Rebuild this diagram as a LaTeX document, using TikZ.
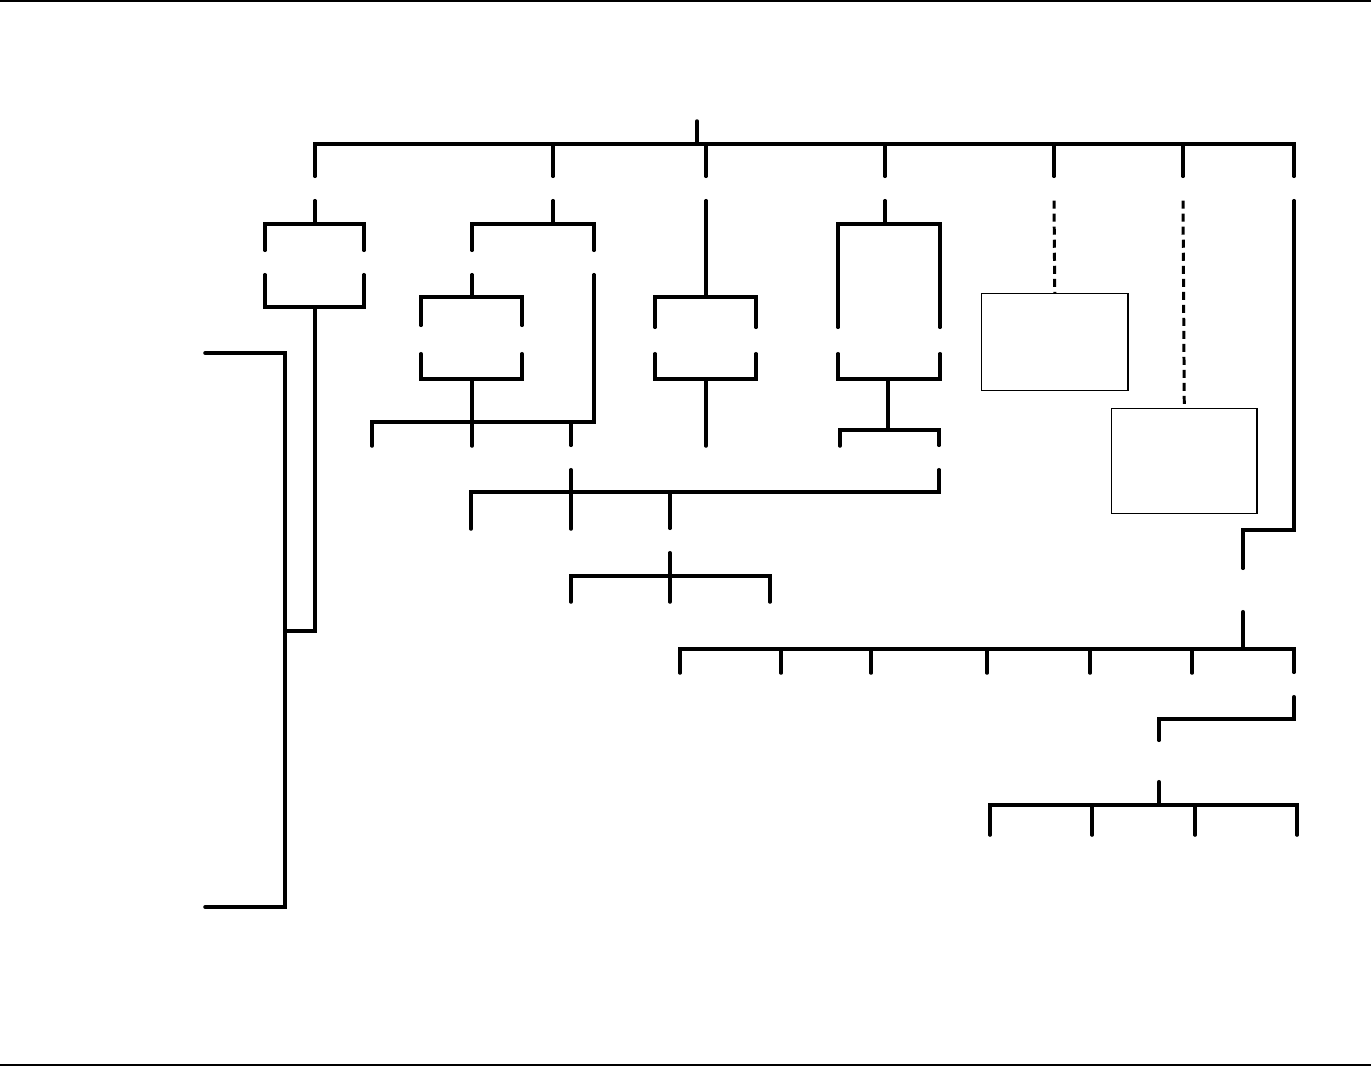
\documentclass[tikz,border=0pt]{standalone}
\usetikzlibrary{positioning,calc}

\begin{document}
\begin{tikzpicture}[
    x=0.01cm,y=-0.01cm,
    slot/.style={inner sep=0pt,minimum width=0pt,minimum height=2.3mm},
    link/.style={line width=1pt,line cap=round},
    hint/.style={line width=0.85pt,dash pattern=on 0.8mm off 0.5mm},
    card/.style={draw,line width=0.4pt,inner sep=0pt,anchor=north west},
    rule/.style={line width=0.4pt}
  ]
    \useasboundingbox (0,0) rectangle (1371,1066);
    \draw[rule] (0,1) -- (1371,1);
    \draw[rule] (0,1065) -- (1371,1065);

    % top level
    \node[slot,anchor=south] (root) at (697,121) {};
    \coordinate (bus) at (697,144);
    \foreach \n/\x in {a/315,b/553,c/706,d/885,e/1054,f/1183,g/1294}
      \node[slot] (t1\n) at (\x,188.5) {};
    \draw[link] (root.south) -- (bus);
    \draw[link] (t1a.north) |- (bus) -| (t1g.north);
    \foreach \n in {b,c,d,e,f}
      \draw[link] (t1\n.north) -- (t1\n.north |- bus);

    % first branch and the long bracket
    \node[slot] (a1) at (265,262.5) {};
    \node[slot] (a2) at (364,262.5) {};
    \coordinate (aTop) at (315,224);
    \coordinate (aBot) at (315,307);
    \coordinate (aJoin) at (285,631);
    \coordinate (lfTop) at (205,353);
    \coordinate (lfBot) at (205,907);
    \draw[link] (t1a.south) -- (aTop);
    \draw[link] (a1.north) |- (aTop) -| (a2.north);
    \draw[link] (a1.south) |- (aBot) -| (a2.south);
    \draw[link] (aBot) |- (aJoin);
    \draw[link] (lfTop) -| (aJoin) |- (lfBot);

    % second branch
    \node[slot] (b1) at (472,262.5) {};
    \node[slot] (b2) at (594,262.5) {};
    \node[slot,minimum height=2.7mm] (b3) at (421,339.5) {};
    \node[slot,minimum height=2.7mm] (b4) at (522,339.5) {};
    \coordinate (bTop) at (553,224);
    \coordinate (bMid) at (472,297);
    \coordinate (bLow) at (472,379);
    \coordinate (bBar) at (472,422);
    \coordinate (bLeaf1) at (372,446);
    \coordinate (bLeaf2) at (472,446);
    \draw[link] (t1b.south) -- (bTop);
    \draw[link] (b1.north) |- (bTop) -| (b2.north);
    \draw[link] (b1.south) -- (bMid);
    \draw[link] (b3.north) |- (bMid) -| (b4.north);
    \draw[link] (b3.south) |- (bLow) -| (b4.south);
    \draw[link] (bLow) -- (bBar);
    \draw[link] (bLeaf1) |- (bBar) -| (b2.south);
    \draw[link] (bBar) -- (bLeaf2);
    \node[slot] (e1) at (571,457.5) {};
    \draw[link] (e1.north) -- (e1.north |- bBar);

    % third branch
    \node[slot,minimum height=2.5mm] (c1) at (655,340.5) {};
    \node[slot,minimum height=2.5mm] (c2) at (756,340.5) {};
    \coordinate (cMid) at (706,297);
    \coordinate (cLow) at (706,379);
    \coordinate (cLeaf) at (706,446);
    \draw[link] (t1c.south) -- (cMid);
    \draw[link] (c1.north) |- (cMid) -| (c2.north);
    \draw[link] (c1.south) |- (cLow) -| (c2.south);
    \draw[link] (cLow) -- (cLeaf);

    % fourth branch
    \node[slot,minimum height=2.5mm] (d1) at (838,340.5) {};
    \node[slot,minimum height=2.5mm] (d2) at (940,340.5) {};
    \coordinate (dTop) at (885,224);
    \coordinate (dLow) at (888,379);
    \coordinate (dBar) at (888,430);
    \coordinate (dLeaf) at (840,446);
    \node[slot] (e2) at (939,457.5) {};
    \draw[link] (t1d.south) -- (dTop);
    \draw[link] (d1.north) |- (dTop) -| (d2.north);
    \draw[link] (d1.south) |- (dLow) -| (d2.south);
    \draw[link] (dLow) -- (dBar);
    \draw[link] (dLeaf) |- (dBar) -| (e2.north);

    % merged rows
    \coordinate (eBar) at (670,492);
    \coordinate (eLeaf1) at (471,529);
    \coordinate (eLeaf2) at (571,529);
    \node[slot] (f1) at (670,540.5) {};
    \draw[link] (eLeaf1) |- (eBar) -| (e2.south);
    \draw[link] (e1.south) -- (eLeaf2);
    \draw[link] (eBar) -- (f1.north);
    \coordinate (fBar) at (670,576);
    \coordinate (fLeaf1) at (571,602);
    \coordinate (fLeaf2) at (670,602);
    \coordinate (fLeaf3) at (770,602);
    \draw[link] (fLeaf1) |- (fBar) -| (fLeaf3);
    \draw[link] (f1.south) -- (fLeaf2);

    % dashed branches
    \node[card,minimum width=14.6mm,minimum height=9.7mm] (note1) at (981,293) {};
    \node[card,minimum width=14.5mm,minimum height=10.5mm] (note2) at (1111,408) {};
    \draw[hint] (t1e.south) -- (note1.north);
    \draw[hint] (t1f.south) -- ([yshift=0.4mm]note2.north);

    % last branch
    \node[slot,minimum height=4.2mm] (g1) at (1243,590) {};
    \coordinate (gElbow) at (1294,530);
    \coordinate (gBar) at (1243,649);
    \node[slot] (g2) at (1294,684.5) {};
    \draw[link] (t1g.south) -- (gElbow) -| (g1.north);
    \draw[link] (g1.south) -- (gBar);
    \foreach \x [count=\i] in {680,781,871,987,1090,1192}
      \coordinate (gLeaf\i) at (\x,673);
    \draw[link] (gLeaf1) |- (gBar) -| (g2.north);
    \foreach \i in {2,...,6}
      \draw[link] (gLeaf\i) -- (gLeaf\i |- gBar);

    \node[slot,minimum height=4mm] (g3) at (1159,761) {};
    \coordinate (hElbow) at (1294,719);
    \coordinate (hBar) at (1159,805);
    \draw[link] (g2.south) -- (hElbow) -| (g3.north);
    \draw[link] (g3.south) -- (hBar);
    \foreach \x [count=\i] in {990,1092,1195,1297}
      \coordinate (hLeaf\i) at (\x,835);
    \draw[link] (hLeaf1) |- (hBar) -| (hLeaf4);
    \foreach \i in {2,3}
      \draw[link] (hLeaf\i) -- (hLeaf\i |- hBar);
  \end{tikzpicture}
\end{document}
